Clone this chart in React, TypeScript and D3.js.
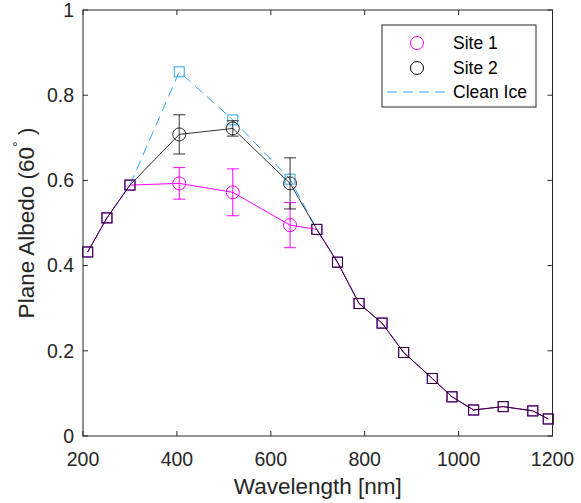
import React from "react";
import * as d3 from "d3";

const wavelengths = [210, 251, 300, 405, 519, 641, 698, 742, 788, 837, 883, 944, 986, 1032, 1095, 1158, 1191];
const site1 = [0.432, 0.512, 0.589, 0.593, 0.572, 0.495, 0.485, 0.408, 0.311, 0.265, 0.196, 0.135, 0.092, 0.061, 0.069, 0.059, 0.040];
const site2 = [0.432, 0.512, 0.589, 0.708, 0.722, 0.593, 0.485, 0.408, 0.311, 0.265, 0.196, 0.135, 0.092, 0.061, 0.069, 0.059, 0.040];
const cleanIce = [0.432, 0.512, 0.589, 0.855, 0.742, 0.603, 0.485, 0.408, 0.311, 0.265, 0.196, 0.135, 0.092, 0.061, 0.069, 0.059, 0.040];
const site1Err = [0, 0, 0, 0.037, 0.055, 0.053, 0, 0, 0, 0, 0, 0, 0, 0, 0, 0, 0];
const site2Err = [0, 0, 0, 0.046, 0.018, 0.060, 0, 0, 0, 0, 0, 0, 0, 0, 0, 0, 0];
const measured = [false, false, false, true, true, true, false, false, false, false, false, false, false, false, false, false, false];
const xTicks = [200, 400, 600, 800, 1000, 1200];
const yTicks = [0, 0.2, 0.4, 0.6, 0.8, 1];
const legendLabels = ["Site 1", "Site 2", "Clean Ice"];

const W = 581, H = 503;
const L = 83, R = 552.5, T = 10, B = 436;
const AX = "#262626";
const MAG = "#ff00ff";
const BLUE = "#2ea6ee";
const FONT = "'Liberation Sans', Arial, Helvetica, sans-serif";

export default function App() {
  const x = d3.scaleLinear().domain([200, 1200]).range([L, R]);
  const y = d3.scaleLinear().domain([0, 1]).range([B, T]);
  const line = (vals: number[]) =>
    d3.line<number>().x((_, i) => x(wavelengths[i])).y((v) => y(v))(vals) as string;
  const sq = 5;
  const cr = 6.5;

  const series = [
    { vals: site1, err: site1Err, color: MAG, opacity: 1 },
    { vals: site2, err: site2Err, color: "#000000", opacity: 0.8 },
  ];

  return (
    <svg width={W} height={H} style={{ position: "absolute", left: 0, top: 0, background: "#fff" }} fontFamily={FONT}>
      <rect x={0} y={0} width={W} height={H} fill="#fff" />
      <path d={line(cleanIce)} fill="none" stroke={BLUE} strokeWidth={1} strokeDasharray="10,6" />
      {cleanIce.map((v, i) => (
        <rect key={"c" + i} x={x(wavelengths[i]) - sq} y={y(v) - sq} width={2 * sq} height={2 * sq} fill="none" stroke={BLUE} strokeWidth={1} />
      ))}
      {series.map((s, si) => (
        <g key={si} stroke={s.color} strokeOpacity={s.opacity} fill="none" strokeWidth={1}>
          <path d={line(s.vals)} />
          {s.vals.map((v, i) => {
            const cx = x(wavelengths[i]);
            const cy = y(v);
            if (measured[i]) {
              const e = s.err[i];
              return (
                <g key={i}>
                  <line x1={cx} x2={cx} y1={y(v + e)} y2={y(v - e)} />
                  <line x1={cx - 6} x2={cx + 6} y1={y(v + e)} y2={y(v + e)} />
                  <line x1={cx - 6} x2={cx + 6} y1={y(v - e)} y2={y(v - e)} />
                  <circle cx={cx} cy={cy} r={cr} />
                </g>
              );
            }
            return <rect key={i} x={cx - sq} y={cy - sq} width={2 * sq} height={2 * sq} />;
          })}
        </g>
      ))}
      <rect x={L} y={T} width={R - L} height={B - T} fill="none" stroke={AX} strokeWidth={1} />
      {xTicks.map((t) => (
        <g key={"x" + t}>
          <line x1={x(t)} x2={x(t)} y1={B} y2={B - 5} stroke={AX} />
          <line x1={x(t)} x2={x(t)} y1={T} y2={T + 5} stroke={AX} />
          <text x={x(t)} y={466} textAnchor="middle" fontSize={19.5} fill={AX}>{t}</text>
        </g>
      ))}
      {yTicks.map((t) => (
        <g key={"y" + t}>
          <line x1={L} x2={L + 5} y1={y(t)} y2={y(t)} stroke={AX} />
          <line x1={R} x2={R - 5} y1={y(t)} y2={y(t)} stroke={AX} />
          <text x={74} y={y(t)} dy="0.35em" textAnchor="end" fontSize={19.5} fill={AX}>{String(t)}</text>
        </g>
      ))}
      <text x={(L + R) / 2} y={494} textAnchor="middle" fontSize={22.5} fill={AX}>Wavelength [nm]</text>
      <text transform={`translate(34,${(T + B) / 2}) rotate(-90)`} textAnchor="middle" fontSize={22.5} fill={AX}>
        Plane Albedo (60<tspan fontSize={14} dy={-11}>°</tspan><tspan dy={11}> )</tspan>
      </text>
      <g>
        <rect x={382} y={25} width={154} height={82} fill="#fff" stroke={AX} strokeWidth={1} />
        <circle cx={417} cy={43} r={cr} fill="none" stroke={MAG} />
        <circle cx={417} cy={68} r={cr} fill="none" stroke="#000" />
        <line x1={387} x2={448} y1={92} y2={92} stroke={BLUE} strokeDasharray="10,6" />
        {legendLabels.map((l, i) => (
          <text key={l} x={453} y={[43, 68, 92][i]} dy="0.35em" fontSize={17.5} fill="#000">{l}</text>
        ))}
      </g>
    </svg>
  );
}
